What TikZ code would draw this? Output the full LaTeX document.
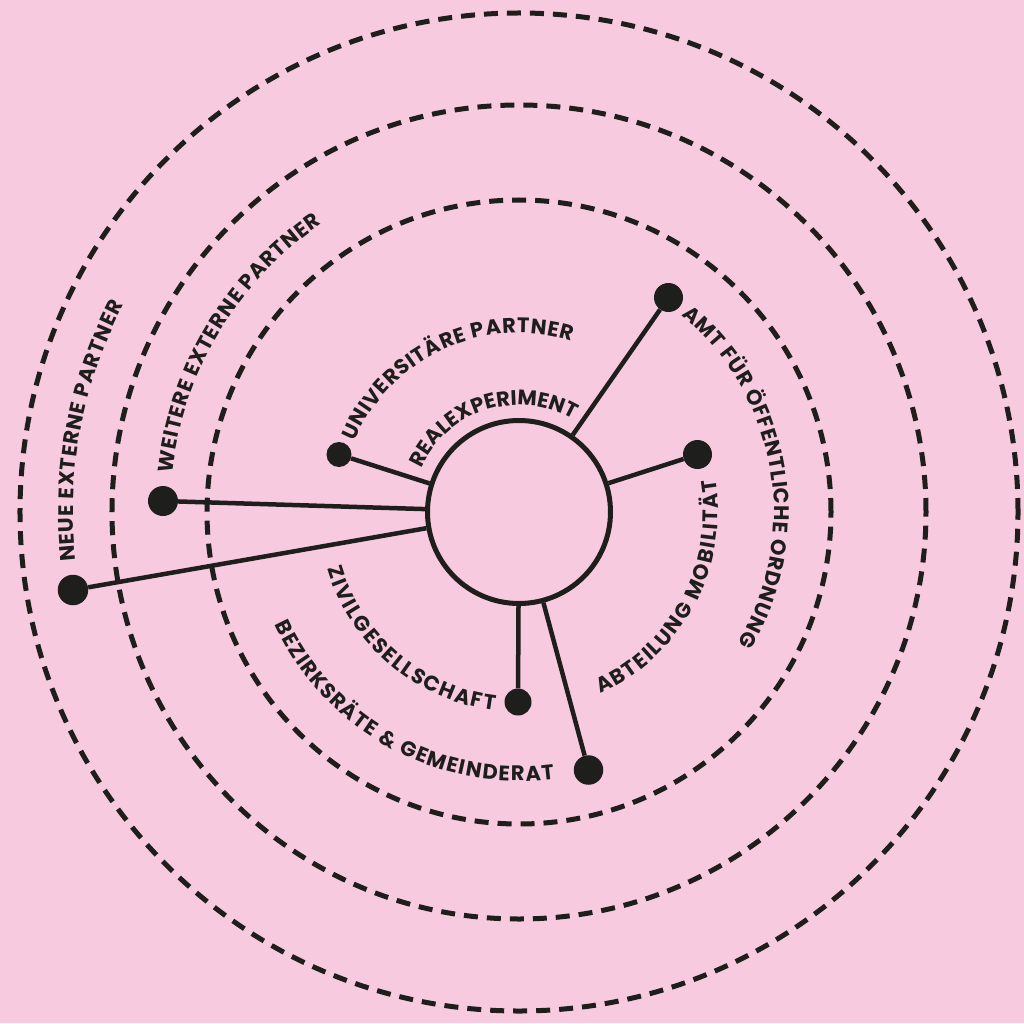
\documentclass[tikz,border=0pt]{standalone}
\usepackage{fontspec}
\setmainfont{Poppins}
\usetikzlibrary{decorations.text}
\definecolor{bg}{RGB}{248,202,223}
\definecolor{ink}{RGB}{30,30,28}
\newcommand{\labfont}{\fontsize{21}{21}\selectfont\bfseries\color{ink}}
\begin{document}
\begin{tikzpicture}[x=1pt,y=1pt,
  ring/.style={draw=ink, line width=5pt, dash pattern=on 14pt off 9pt},
  hub/.style={circle, draw=ink, line width=5pt, inner sep=0pt, minimum size=183pt},
  dotnode/.style={circle, fill=ink, inner sep=0pt, minimum size=#1},
  link/.style={draw=ink, line width=4.5pt},
  arclabel/.style={decorate, decoration={text along path, text align=fit to path, text={|\labfont|#1}}}
]
\useasboundingbox (-519,-511) rectangle (505,512);
\fill[bg] (-519,-511) rectangle (505,512);

% dashed rings
\draw[ring] (0,0) circle[radius=312];
\draw[ring] (0,0) circle[radius=407];
\draw[ring] (0,0) circle[radius=499];

% hub and dots
\node[hub] (hub) at (0,0) {};
\node[dotnode=29pt]   (amt) at (149.5,214.5) {};
\node[dotnode=29pt]   (abt) at (178.5,57.5) {};
\node[dotnode=25pt]   (uni) at (-180,57.5) {};
\node[dotnode=30pt]   (wei) at (-356,11) {};
\node[dotnode=30.5pt] (neu) at (-446,-78) {};
\node[dotnode=27pt]   (ziv) at (-1,-190) {};
\node[dotnode=29.5pt] (bez) at (69.5,-258) {};

\draw[link] (hub) -- (amt);
\draw[link] (hub) -- (abt);
\draw[link] (hub) -- (uni);
\draw[link] (hub) -- (wei);
\draw[link] (hub) -- (neu);
\draw[link] (hub) -- (ziv);
\draw[link] (hub) -- (bez);

% curved labels
\path[arclabel={REALEXPERIMENT}] (156:107) arc[start angle=156, end angle=60, radius=107];
\path[arclabel={UNIVERSITÄRE PARTNER}] (157:179) arc[start angle=157, end angle=73, radius=179];
\path[arclabel={AMT FÜR ÖFFENTLICHE ORDNUNG}] (50.5:255) arc[start angle=50.5, end angle=-31, radius=255];
\path[arclabel={ABTEILUNG MOBILITÄT}] (-66:199) arc[start angle=-66, end angle=9.5, radius=199];
\path[arclabel={ZIVILGESELLSCHAFT}] (196.5:200) arc[start angle=196.5, end angle=263, radius=200];
\path[arclabel={BEZIRKSRÄTE {\&} GEMEINDERAT}] (204.8:269) arc[start angle=204.8, end angle=277.6, radius=269];
\path[arclabel={WEITERE EXTERNE PARTNER}] (173.6:349) arc[start angle=173.6, end angle=124.4, radius=349];
\path[arclabel={NEUE EXTERNE PARTNER}] (186.3:446) arc[start angle=186.3, end angle=152.3, radius=446];
\end{tikzpicture}
\end{document}
